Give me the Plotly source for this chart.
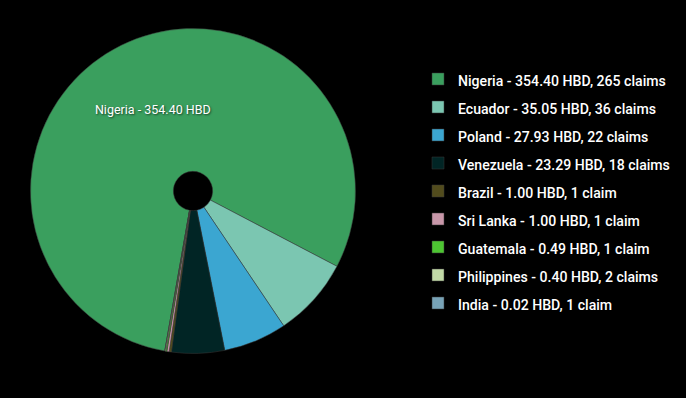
import plotly.graph_objects as go

countries = ["Nigeria", "Ecuador", "Poland", "Venezuela", "Brazil", "Sri Lanka",
             "Guatemala", "Philippines", "India"]
hbd = [354.40, 35.05, 27.93, 23.29, 1.00, 1.00, 0.49, 0.40, 0.02]
claims = [265, 36, 22, 18, 1, 1, 1, 2, 1]
colors = ["#3a9f5e", "#7bc6b1", "#3ba6d1", "#012525", "#524c1d", "#c897a9",
          "#4dc532", "#c2daa7", "#78a3b7"]

W, H = 686, 398

legend_labels = [
    f"<span style='font-size:14.1px;font-weight:500'>{c} - {v:.2f} HBD, {n} claim{'s' if n != 1 else ''}</span>"
    for c, v, n in zip(countries, hbd, claims)
]
inside_text = [f"{c} - {v:.2f} HBD" for c, v in zip(countries, hbd)]

cx, cy, r = 193, 191, 162.5

fig = go.Figure(go.Pie(
    labels=legend_labels,
    values=hbd,
    text=inside_text,
    textinfo="text",
    textposition="inside",
    insidetextorientation="horizontal",
    textfont=dict(family="Roboto", size=12.5, color="#ffffff",
                  shadow="1px 1px 2px rgba(0,0,0,0.6)"),
    marker=dict(colors=colors, line=dict(color="#3a3a3a", width=0.5)),
    sort=False,
    direction="clockwise",
    rotation=190,
    hole=0.121,
    hoverinfo="label+value",
    domain=dict(x=[(cx - r) / W, (cx + r) / W],
                y=[1 - (cy + r) / H, 1 - (cy - r) / H]),
))

fig.update_layout(
    width=W, height=H,
    margin=dict(l=0, r=0, t=0, b=0, autoexpand=False),
    paper_bgcolor="#000000",
    plot_bgcolor="#000000",
    uniformtext=dict(minsize=12.5, mode="hide"),
    showlegend=True,
    legend=dict(
        font=dict(family="Roboto", size=19.23, color="#ffffff"),
        xref="paper", yref="paper",
        x=418 / W, y=1 - 60 / H,
        xanchor="left", yanchor="top",
        maxheight=1,
        bgcolor="rgba(0,0,0,0)",
        traceorder="normal",
    ),
)

fig.write_html("out.html", config={"displayModeBar": False},
               post_script="document.body.style.margin='0';")
